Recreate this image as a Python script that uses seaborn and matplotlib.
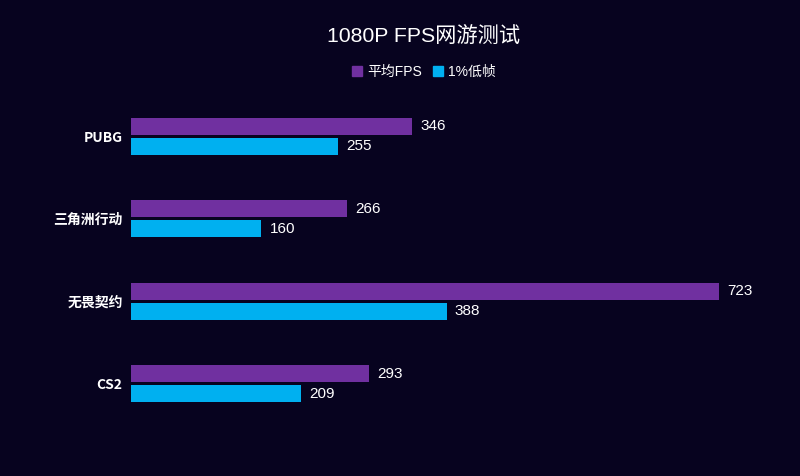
import matplotlib
matplotlib.use("Agg")
import matplotlib.pyplot as plt
import seaborn as sns
import pandas as pd
from matplotlib.patches import Patch

games = ["PUBG", "三角洲行动", "无畏契约", "CS2"]
avg_fps = [346, 266, 723, 293]
low_fps = [255, 160, 388, 209]
series_names = ["平均FPS", "1%低帧"]
colors = ["#7030a0", "#00b0f0"]

sns.set_theme(style="white")
plt.rcParams['font.family'] = ['Noto Sans CJK SC', 'DejaVu Sans']
mixed = ['Liberation Sans', 'Noto Sans CJK SC', 'DejaVu Sans']
bg = "#07031f"

df = pd.DataFrame({
    "game": games * 2,
    "fps": avg_fps + low_fps,
    "series": [series_names[0]] * len(games) + [series_names[1]] * len(games),
})

fig = plt.figure(figsize=(8, 4.76), dpi=100, facecolor=bg)
ax = fig.add_axes([131/800, 1 - 425/476, (780-131)/800, 330/476])
ax.set_facecolor(bg)
sns.barplot(data=df, y="game", x="fps", hue="series", order=games,
            hue_order=series_names, palette=colors, orient="h",
            width=0.48, gap=0.15, ax=ax, legend=False, saturation=1,
            linewidth=0, edgecolor="none")
ax.set_xlim(0, 798)
ax.set_ylim(3.5, -0.5)
for c in ax.containers:
    ax.bar_label(c, padding=6, color="white", fontsize=11,
                 family=['Liberation Sans', 'DejaVu Sans'])
for s in ax.spines.values():
    s.set_visible(False)
ax.set_xticks([])
ax.set_xlabel("")
ax.set_ylabel("")
ax.tick_params(axis="y", length=0, pad=6, colors="white")
for lab in ax.get_yticklabels():
    lab.set_fontweight("bold")
    lab.set_fontsize(10)
    lab.set_color("white")

fig.suptitle("1080P FPS网游测试", x=424/800, y=1 - 37/476, va="center",
             color="white", fontsize=15.3, family=mixed)

handles = [Patch(facecolor=col, edgecolor=col) for col in colors]
fig.legend(handles, series_names, loc="center", bbox_to_anchor=(424/800, 1 - 72/476),
           ncol=2, frameon=False, handlelength=0.7, handleheight=0.7,
           handletextpad=0.4, columnspacing=0.8, labelcolor="white",
           prop={'family': mixed, 'size': 10})

fig.savefig("out.png", dpi=100, facecolor=bg)
